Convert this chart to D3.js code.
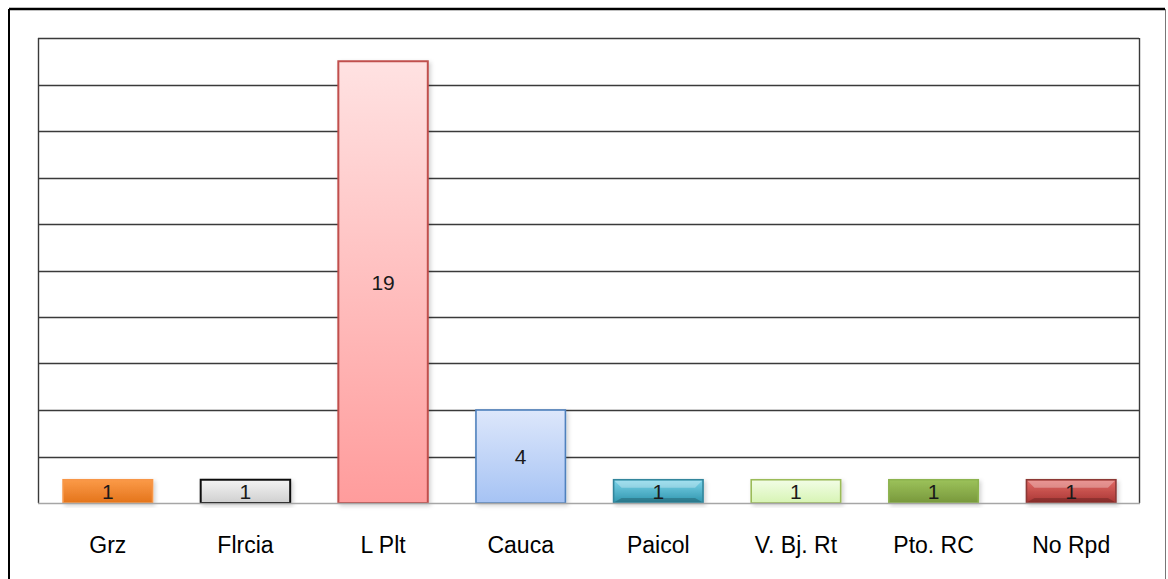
<!DOCTYPE html>
<html>
<head>
<meta charset="utf-8">
<script src="https://cdn.jsdelivr.net/npm/d3@7"></script>
<style>
  body { margin: 0; background: #fff; }
  svg { display: block; font-family: "Liberation Sans", Arial, sans-serif; }
</style>
</head>
<body>
<svg width="1168" height="579"></svg>
<script>
// data
var categories = ["Grz", "Flrcia", "L Plt", "Cauca", "Paicol", "V. Bj. Rt", "Pto. RC", "No Rpd"];
var values = [1, 1, 19, 4, 1, 1, 1, 1];
var yTicks = [0, 2, 4, 6, 8, 10, 12, 14, 16, 18, 20];

// fill top / fill bottom / stroke, one per bar
var fillTop = ["#fb9a48", "#f4f4f4", "#ffe2e2", "#dde7fb", "#7cd4ea", "#f2fde6", "#9cc25a", "#e26a66"];
var fillBottom = ["#e4741b", "#cfcfcf", "#ff9c9c", "#a6c3f4", "#2f95ad", "#d7f4b4", "#78983c", "#a83633"];
var strokes = ["#f79646", "#111111", "#c0504d", "#4f81bd", "#31859c", "#9bbb59", "#8db34f", "#8c3836"];
var bevel = [false, false, false, false, true, false, false, true];

var svg = d3.select("svg");
var defs = svg.append("defs");

// plot box (not "top": window.top is reserved)
var plotLeft = 38, plotRight = 1139, plotTop = 38, plotBottom = 503;

var x = d3.scaleBand()
  .domain(categories)
  .range([plotLeft + 1, plotRight + 1])
  .paddingInner(0.35)
  .paddingOuter(0.175);

var y = d3.scaleLinear()
  .domain([0, 20])
  .range([plotBottom, plotTop]);

// outer frame
svg.append("line").attr("x1", 9).attr("y1", 9).attr("x2", 1165).attr("y2", 9)
  .attr("stroke", "#000").attr("stroke-width", 2.5);
svg.append("line").attr("x1", 9).attr("y1", 9).attr("x2", 9).attr("y2", 579)
  .attr("stroke", "#000").attr("stroke-width", 2);
svg.append("line").attr("x1", 1165.5).attr("y1", 9).attr("x2", 1165.5).attr("y2", 579)
  .attr("stroke", "#777").attr("stroke-width", 1);

// gridlines
svg.append("g")
  .selectAll("line")
  .data(yTicks.slice(1))
  .enter()
  .append("line")
  .attr("x1", plotLeft).attr("x2", plotRight)
  .attr("y1", function(d) { return Math.round(y(d)) + 0.5; })
  .attr("y2", function(d) { return Math.round(y(d)) + 0.5; })
  .attr("stroke", "#3a3a3a")
  .attr("stroke-width", 1.4);

// plot sides
svg.append("line").attr("x1", plotLeft + 0.5).attr("x2", plotLeft + 0.5).attr("y1", plotTop).attr("y2", plotBottom)
  .attr("stroke", "#3a3a3a").attr("stroke-width", 1.4);
svg.append("line").attr("x1", plotRight + 0.5).attr("x2", plotRight + 0.5).attr("y1", plotTop).attr("y2", plotBottom)
  .attr("stroke", "#3a3a3a").attr("stroke-width", 1.4);

// shadow filter
var f = defs.append("filter").attr("id", "shadow").attr("x", "-10%").attr("y", "-10%")
  .attr("width", "130%").attr("height", "130%");
f.append("feDropShadow").attr("dx", 2).attr("dy", 2).attr("stdDeviation", 2)
  .attr("flood-color", "#000").attr("flood-opacity", 0.18);

categories.forEach(function(c, i) {
  var g = defs.append("linearGradient").attr("id", "grad" + i)
    .attr("x1", 0).attr("y1", 0).attr("x2", 0).attr("y2", 1);
  g.append("stop").attr("offset", "0%").attr("stop-color", fillTop[i]);
  g.append("stop").attr("offset", "100%").attr("stop-color", fillBottom[i]);
});

var bars = svg.append("g")
  .selectAll("g")
  .data(values)
  .enter()
  .append("g");

bars.append("rect")
  .attr("x", function(d, i) { return x(categories[i]); })
  .attr("y", function(d) { return y(d); })
  .attr("width", x.bandwidth())
  .attr("height", function(d) { return y(0) - y(d); })
  .attr("fill", function(d, i) { return "url(#grad" + i + ")"; })
  .attr("stroke", function(d, i) { return strokes[i]; })
  .attr("stroke-width", function(d, i) { return i == 1 || i == 2 ? 2 : 1.6; })
  .attr("filter", "url(#shadow)");

// bevel highlights for the two embossed bars
bars.each(function(d, i) {
  if (!bevel[i]) return;
  var x0 = x(categories[i]) + 1, x1 = x0 + x.bandwidth() - 2;
  var y0 = y(d) + 1, y1 = y(0) - 1, b = 7;
  var sel = d3.select(this);
  sel.append("path")
    .attr("d", "M" + x0 + "," + y0 + "L" + x1 + "," + y0 + "L" + (x1 - b) + "," + (y0 + b) + "L" + (x0 + b) + "," + (y0 + b) + "Z")
    .attr("fill", "#fff").attr("opacity", 0.3);
  sel.append("path")
    .attr("d", "M" + x0 + "," + y1 + "L" + x1 + "," + y1 + "L" + (x1 - b) + "," + (y1 - 4) + "L" + (x0 + b) + "," + (y1 - 4) + "Z")
    .attr("fill", "#000").attr("opacity", 0.2);
});

// value labels
bars.append("text")
  .attr("x", function(d, i) { return x(categories[i]) + x.bandwidth() / 2; })
  .attr("y", function(d) { return (y(d) + y(0)) / 2; })
  .attr("dy", "0.36em")
  .attr("text-anchor", "middle")
  .attr("font-size", 21)
  .attr("fill", "#1a1a1a")
  .text(function(d) { return d; });

// x axis line
svg.append("line").attr("x1", plotLeft).attr("x2", plotRight + 1)
  .attr("y1", plotBottom + 0.5).attr("y2", plotBottom + 0.5)
  .attr("stroke", "#a6a6a6").attr("stroke-width", 1.5);

// category labels
var xAxis = svg.append("g")
  .attr("transform", "translate(0," + plotBottom + ")")
  .call(d3.axisBottom(x).tickSize(0).tickPadding(0));
xAxis.select(".domain").remove();
xAxis.selectAll(".tick text")
  .attr("y", 50)
  .attr("dy", 0)
  .attr("font-size", 23)
  .attr("font-family", "Liberation Sans, Arial, sans-serif")
  .attr("fill", "#000");
</script>
</body>
</html>
